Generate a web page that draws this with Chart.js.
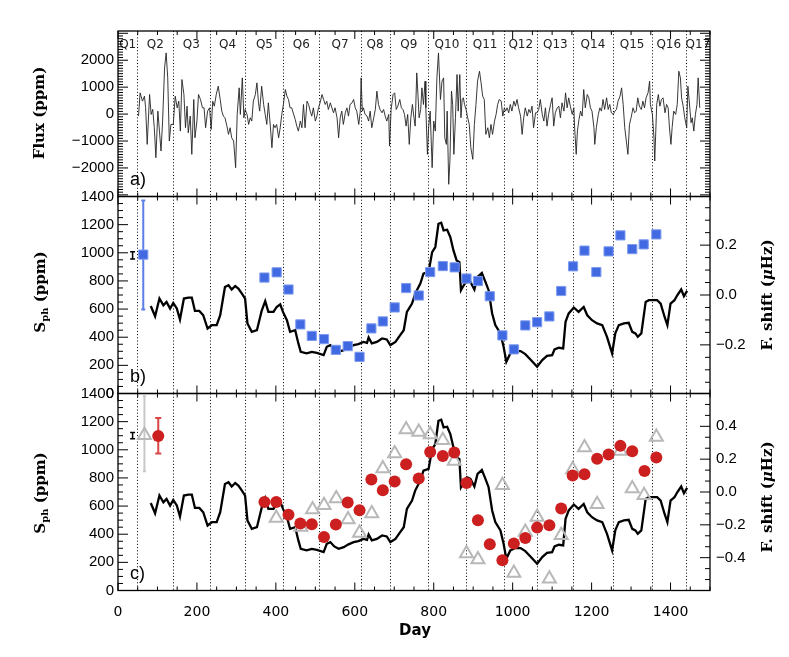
<!DOCTYPE html>
<html>
<head>
<meta charset="utf-8">
<script src="https://cdn.jsdelivr.net/npm/chart.js@4.4.1/dist/chart.umd.min.js"></script>
<style>
  html, body { margin: 0; padding: 0; background: #fff; }
  #wrap { position: relative; width: 789px; height: 657px; background: #fff; }
  #wrap canvas { position: absolute; left: 0; top: 0; }
</style>
</head>
<body>
<div id="wrap">
  <canvas id="panelA" width="789" height="657"></canvas>
  <canvas id="panelB" width="789" height="657"></canvas>
  <canvas id="panelC" width="789" height="657"></canvas>
</div>
<script>
// --- data ---
const quarterBounds = [49, 140, 232, 323, 419, 510, 615, 688, 786, 881, 979, 1062, 1154, 1253, 1352, 1439];
const quarterNames = ['Q1','Q2','Q3','Q4','Q5','Q6','Q7','Q8','Q9','Q10','Q11','Q12','Q13','Q14','Q15','Q16','Q17'];

const dayTicks = [0, 200, 400, 600, 800, 1000, 1200, 1400];
const fluxTicks = [-2000, -1000, 0, 1000, 2000];
const sphTicks = [0, 200, 400, 600, 800, 1000, 1200, 1400];
const shiftTicksB = [-0.2, 0, 0.2];
const shiftTicksC = [-0.4, -0.2, 0, 0.2, 0.4];

// a) light curve
const fluxDay = [52,56,62,67,70,74,80,84,88,92,96,101,105,109,113,118,122,126,130,134,140,145,150,154,158,162,167,171,175,178,
  183,187,192,195,200,204,209,214,218,222,227,232,236,240,244,249,254,259,263,267,271,276,280,284,288,293,298,302,307,310,
  315,319,322,327,331,335,339,343,348,352,356,359,364,369,373,377,381,386,390,394,398,402,407,411,415,419,424,428,432,436,
  440,449,453,457,462,466,470,474,479,483,487,491,495,500,504,508,512,517,521,525,529,533,538,542,546,550,555,559,563,567,
  571,576,580,584,588,593,597,601,605,610,614,616,619,622,626,631,635,639,643,648,652,656,660,664,669,673,677,681,686,688,
  692,697,701,705,709,714,718,722,726,730,734,738,742,746,750,753,757,760,763,767,770,774,778,780,784,787,791,796,800,804,
  808,812,817,821,825,828,832,834,838,841,845,848,851,855,859,862,866,869,872,875,878,882,886,890,894,899,903,907,911,916,
  920,924,928,932,937,941,945,949,954,958,962,966,971,975,979,982,986,990,994,998,1003,1007,1011,1015,1020,1024,1028,1032,1037,1041,
  1045,1049,1053,1058,1062,1066,1070,1075,1079,1083,1087,1091,1096,1100,1104,1108,1113,1117,1121,1125,1130,1134,1138,1142,1146,1151,1155,1157,1161,1164,
  1168,1172,1176,1180,1184,1189,1193,1197,1201,1206,1208,1212,1217,1221,1225,1229,1233,1238,1242,1246,1250,1255,1259,1263,1267,1272,1276,1280,1284,1288,
  1292,1296,1300,1305,1309,1313,1317,1321,1326,1330,1334,1338,1343,1347,1349,1354,1358,1360,1365,1369,1373,1377,1381,1386,1390,1394,1397,1401,1404,1408,
  1413,1417,1421,1425,1428,1432,1436,1441,1444,1447,1452,1455,1459,1463,1467,1470,1474];
const fluxPpm = [-75,789,480,665,233,-1125,727,-13,172,-507,-1618,110,-631,-1372,-260,1715,2271,1345,-1001,-384,-384,665,233,480,-631,1283,727,-507,295,-693,
  -75,-1495,542,-878,-260,727,542,233,233,-507,110,233,-569,480,295,727,1036,542,110,-75,-137,-446,-754,-507,-878,-1001,-1989,-13,974,-13,
  1345,-137,172,-13,-384,-137,-260,480,727,1159,418,110,1036,357,-13,-384,418,-446,-1248,-384,-507,-384,-878,-507,-13,357,912,665,542,233,
  233,-199,-446,-631,-260,-507,357,-507,480,357,110,-75,233,-260,-75,233,418,727,542,357,480,172,418,233,48,233,-137,-878,-137,110,
  -384,48,233,-75,357,418,542,233,110,-384,110,1345,110,233,-13,-75,-260,110,-507,-137,172,851,357,172,48,172,-75,-260,-13,-1187,
  172,727,789,172,295,542,233,172,-13,-446,-13,-1125,-137,357,-137,-446,1530,727,-137,172,974,357,1221,233,-1495,-507,110,-1989,-260,-631,
  1345,2271,542,1221,1345,-878,-1125,110,-2606,-1742,851,357,-1495,-137,1468,110,1468,-137,542,604,357,172,-137,-384,-1248,-1680,-384,357,1221,1591,
  1159,665,542,-754,-507,-878,-384,-754,-260,-13,357,542,480,-75,233,110,233,48,357,110,480,295,542,233,-75,-754,-137,233,-75,172,
  48,295,-507,48,48,172,542,-13,-260,233,-446,-13,357,604,-446,48,233,295,-137,418,110,789,233,604,295,-13,233,-507,-1495,-631,
  -199,110,-75,912,233,727,604,233,110,-507,-1125,-507,-13,233,110,542,172,604,172,357,48,-13,110,172,480,665,974,357,-507,-1001,
  -1495,-384,-137,233,48,110,604,295,172,480,233,604,789,1221,357,-13,-878,-1742,357,727,295,542,604,48,357,233,-446,-1125,-507,110,
  -13,357,1591,1345,604,295,-137,-507,1036,542,-322,-137,-631,-13,357,1345,233];

// b), c) photometric activity proxy S_ph
const sphDay = [83,94,105,115,123,132,140,149,157,167,178,187,195,206,216,227,238,250,259,271,280,288,297,305,314,322,328,339,352,364,
  373,381,394,402,411,418,428,436,449,457,463,478,491,504,521,529,538,548,559,572,584,597,609,622,631,635,643,656,669,681,
  690,703,715,724,732,745,753,766,774,787,796,804,812,819,825,834,842,850,858,865,869,876,884,893,903,911,922,931,939,948,
  956,969,977,984,994,1007,1020,1032,1045,1062,1075,1087,1100,1106,1117,1128,1134,1142,1155,1167,1180,1189,1201,1214,1227,1239,1252,1260,1269,1282,
  1294,1303,1311,1317,1326,1337,1345,1366,1375,1385,1392,1400,1410,1417,1427,1434,1442];
const sphPpm = [622,549,675,627,651,604,644,604,526,675,682,682,587,587,556,462,486,486,556,757,769,739,764,746,710,675,498,438,450,587,
  656,580,580,615,634,580,521,438,450,356,296,285,296,289,273,332,344,313,296,308,328,344,351,367,360,398,356,367,391,384,
  344,367,415,450,580,639,710,781,852,864,1005,1041,1206,1214,1159,1164,1112,1017,946,934,734,769,805,793,739,828,856,793,734,569,
  486,427,332,225,285,303,301,280,242,190,237,268,273,313,325,320,509,569,611,580,615,556,521,498,486,403,285,427,486,498,
  502,438,427,403,427,651,663,663,639,544,486,639,663,698,739,691,729];

// b) frequency shift, blue squares (right axis)
const shiftDayB = [371,402,432,462,491,522,552,582,612,642,671,701,730,762,791,823,853,883,912,942,974,1003,1032,1062,1093,1123,1153,1182,1212,1243,1273,1303,1332,1364];
const shiftB = [0.070,0.091,0.022,-0.118,-0.164,-0.177,-0.220,-0.205,-0.248,-0.134,-0.106,-0.050,0.028,-0.002,0.092,0.116,0.111,0.066,0.056,-0.005,
  -0.162,-0.218,-0.122,-0.109,-0.086,0.016,0.115,0.178,0.092,0.175,0.239,0.184,0.203,0.243];

// c) frequency shift, red circles and grey triangles (right axis)
const shiftDayRed = [371,401,432,462,491,522,552,582,612,642,671,701,730,762,791,823,852,883,912,942,974,1003,1032,1062,1093,1123,1152,1182,1214,1243,1273,1303,1334,1364];
const shiftRed = [-0.061,-0.061,-0.138,-0.192,-0.196,-0.274,-0.198,-0.064,-0.111,0.076,0.011,0.064,0.169,0.082,0.244,0.220,0.240,0.055,-0.172,-0.318,
  -0.416,-0.314,-0.280,-0.217,-0.203,-0.101,0.100,0.108,0.203,0.228,0.281,0.248,0.128,0.210];
const shiftDayGrey = [401,463,493,522,553,583,612,643,671,701,730,762,791,823,852,883,912,974,1003,1032,1062,1093,1123,1152,1182,1214,1273,1303,1333,1364];
const shiftGrey = [-0.158,-0.213,-0.107,-0.081,-0.040,-0.168,-0.249,-0.131,0.143,0.234,0.380,0.366,0.350,0.315,0.189,-0.375,-0.411,0.041,-0.493,-0.243,
  -0.152,-0.528,-0.263,0.137,0.271,-0.075,0.250,0.021,-0.020,0.335];

// typical error bars drawn in the upper-left corners
const errSphB = { day: 37, value: 982, lo: 956, hi: 1008 };
const errBlue = { day: 64, value: 0.162, lo: -0.058, hi: 0.379 };
const errSphC = { day: 37, value: 1100, lo: 1078, hi: 1122 };
const errGrey = { day: 67, value: 0.346, lo: 0.126, hi: 0.583 };
const errRed = { day: 102, value: 0.341, lo: 0.234, hi: 0.451 };

// --- helpers ---
const pts = (xs, ys) => xs.map((x, i) => ({ x: x, y: ys[i] }));
const minusFmt = (v, digits) => {
  const s = digits ? Math.abs(v).toFixed(digits) : String(Math.abs(v));
  return v < 0 ? '\u2212' + s : s;
};

const TITLE = 'bold 15px "DejaVu Serif"';
const SUB = 'bold 10px "DejaVu Serif"';
const sphTitle = [{ t: 'S', f: TITLE }, { t: 'ph', f: SUB, dy: 4 }, { t: ' (ppm)', f: TITLE }];
const shiftTitle = [{ t: 'F. shift (', f: TITLE }, { t: '\u03bc', f: 'italic bold 15px "DejaVu Serif"' }, { t: 'Hz)', f: TITLE }];

// per-panel decorations (ticks, titles, letters)
const panels = {
  panelA: {
    letter: 'a)', qLabels: true,
    xTicks: { major: 200, sub: 4, big: 8, small: 4 },
    left: { id: 'y', major: 1000, sub: 10, big: 10, small: 5 },
    right: { id: 'y', major: 1000, sub: 10, big: 10, small: 5 },
    titles: [
      { x: 40, y: 113, rot: true, parts: [{ t: 'Flux (ppm)', f: TITLE }] }
    ]
  },
  panelB: {
    letter: 'b)',
    xTicks: { major: 200, sub: 4, big: 8, small: 4 },
    left: { id: 'y', major: 200, sub: 4, big: 10, small: 5 },
    right: { id: 'y2', major: 0.2, sub: 4, big: 10, small: 5 },
    titles: [
      { x: 41, y: 292, rot: true, parts: sphTitle },
      { x: 768, y: 295, rot: true, parts: shiftTitle }
    ]
  },
  panelC: {
    letter: 'c)',
    xTicks: { major: 200, sub: 4, big: 8, small: 4 },
    left: { id: 'y', major: 200, sub: 4, big: 10, small: 5 },
    right: { id: 'y2', major: 0.2, sub: 3, big: 10, small: 5 },
    titles: [
      { x: 41, y: 493, rot: true, parts: sphTitle },
      { x: 768, y: 497, rot: true, parts: shiftTitle },
      { x: 415, y: 631, rot: false, parts: [{ t: 'Day', f: 'bold 15px "DejaVu Sans"' }] }
    ]
  }
};

function tickMarks(ctx, scale, a, side, spec) {
  const minor = spec.major / spec.sub;
  const k0 = Math.ceil(scale.min / minor - 1e-6);
  const k1 = Math.floor(scale.max / minor + 1e-6);
  ctx.beginPath();
  for (let k = k0; k <= k1; k++) {
    const len = (k % spec.sub === 0) ? spec.big : spec.small;
    const p = scale.getPixelForValue(k * minor);
    if (side === 'left') { ctx.moveTo(a.left, p); ctx.lineTo(a.left + len, p); }
    if (side === 'right') { ctx.moveTo(a.right, p); ctx.lineTo(a.right - len, p); }
    if (side === 'bottom') { ctx.moveTo(p, a.bottom); ctx.lineTo(p, a.bottom - len); }
    if (side === 'top') { ctx.moveTo(p, a.top); ctx.lineTo(p, a.top + len); }
  }
  ctx.stroke();
}

function drawTitle(ctx, t) {
  ctx.save();
  ctx.translate(t.x, t.y);
  if (t.rot) ctx.rotate(-Math.PI / 2);
  ctx.textBaseline = 'middle';
  ctx.textAlign = 'left';
  ctx.fillStyle = '#000';
  let total = 0;
  t.parts.forEach(p => { ctx.font = p.f; total += ctx.measureText(p.t).width; });
  let x = -total / 2;
  t.parts.forEach(p => {
    ctx.font = p.f;
    ctx.fillText(p.t, x, p.dy || 0);
    x += ctx.measureText(p.t).width;
  });
  ctx.restore();
}

const idlPanel = {
  id: 'idlPanel',
  beforeDatasetsDraw(chart) {
    const spec = panels[chart.canvas.id];
    const { ctx, chartArea: a, scales } = chart;
    ctx.save();
    ctx.beginPath();
    ctx.rect(a.left, a.top, a.width, a.height);
    ctx.clip();
    // quarter boundaries
    ctx.strokeStyle = '#000';
    ctx.lineWidth = 1;
    ctx.setLineDash([1, 2.2]);
    quarterBounds.forEach(d => {
      const px = Math.round(scales.x.getPixelForValue(d)) + 0.5;
      ctx.beginPath();
      ctx.moveTo(px, a.top);
      ctx.lineTo(px, a.bottom);
      ctx.stroke();
    });
    ctx.setLineDash([]);
    if (spec.qLabels) {
      ctx.fillStyle = '#222';
      ctx.font = '12px "DejaVu Sans"';
      ctx.textAlign = 'center';
      ctx.textBaseline = 'middle';
      quarterNames.forEach((q, i) => {
        const lo = i === 0 ? 0 : quarterBounds[i - 1];
        const hi = i < quarterBounds.length ? quarterBounds[i] : scales.x.max;
        ctx.fillText(q, scales.x.getPixelForValue((lo + hi) / 2), a.top + 14);
      });
    }
    // error bars
    chart.data.datasets.forEach(ds => {
      if (!ds.errLo) return;
      const ys = scales[ds.yAxisID || 'y'];
      ctx.strokeStyle = ds.errColor;
      ctx.lineWidth = ds.errWidth;
      ds.data.forEach((p, j) => {
        const px = scales.x.getPixelForValue(p.x);
        const lo = ys.getPixelForValue(ds.errLo[j]);
        const hi = ys.getPixelForValue(ds.errHi[j]);
        ctx.beginPath();
        ctx.moveTo(px, lo); ctx.lineTo(px, hi);
        ctx.moveTo(px - ds.errCap, lo); ctx.lineTo(px + ds.errCap, lo);
        ctx.moveTo(px - ds.errCap, hi); ctx.lineTo(px + ds.errCap, hi);
        ctx.stroke();
      });
    });
    ctx.restore();
  },
  afterDraw(chart) {
    const spec = panels[chart.canvas.id];
    const { ctx, chartArea: a, scales } = chart;
    ctx.save();
    ctx.strokeStyle = '#000';
    ctx.lineWidth = 1;
    tickMarks(ctx, scales.x, a, 'bottom', spec.xTicks);
    tickMarks(ctx, scales.x, a, 'top', spec.xTicks);
    tickMarks(ctx, scales[spec.left.id], a, 'left', spec.left);
    tickMarks(ctx, scales[spec.right.id], a, 'right', spec.right);
    ctx.lineWidth = 1.3;
    ctx.strokeRect(a.left, a.top, a.width, a.height);
    ctx.fillStyle = '#000';
    ctx.font = '18px "Liberation Sans"';
    ctx.textAlign = 'left';
    ctx.textBaseline = 'middle';
    ctx.fillText(spec.letter, a.left + 12, a.bottom - 16);
    spec.titles.forEach(t => drawTitle(ctx, t));
    ctx.restore();
  }
};

function xScale(show) {
  const s = {
    type: 'linear', min: 0, max: 1500, display: show,
    grid: { display: false, drawTicks: false }, border: { display: false },
    ticks: { font: { family: 'DejaVu Sans', size: 14 }, color: '#000', padding: 13, autoSkip: false, maxRotation: 0,
      callback: v => String(v) },
    afterBuildTicks: sc => { sc.ticks = dayTicks.map(v => ({ value: v })); }
  };
  if (show) s.afterFit = sc => { sc.height = 66.5; };
  return s;
}

function yScale(pos, min, max, vals, digits) {
  return {
    type: 'linear', position: pos, min: min, max: max,
    grid: { display: false, drawTicks: false }, border: { display: false },
    ticks: { font: { family: 'Liberation Sans', size: 15 }, color: '#000', padding: pos === 'left' ? 4 : 6, autoSkip: false,
      callback: v => minusFmt(v, digits) },
    afterBuildTicks: s => { s.ticks = vals.map(v => ({ value: v })); },
    afterFit: s => { s.width = pos === 'left' ? 118 : 79; }
  };
}

const common = {
  responsive: false,
  animation: false,
  events: [],
  plugins: { legend: { display: false }, tooltip: { enabled: false } }
};

const sphLine = () => ({
  data: pts(sphDay, sphPpm), yAxisID: 'y', showLine: true,
  borderColor: '#000', borderWidth: 2.3, pointRadius: 0, tension: 0
});

// a) flux
new Chart(document.getElementById('panelA'), {
  type: 'scatter',
  data: { datasets: [{
    data: pts(fluxDay, fluxPpm), showLine: true,
    borderColor: '#222', borderWidth: 0.9, pointRadius: 0, tension: 0
  }] },
  options: Object.assign({}, common, {
    layout: { padding: { top: 31, bottom: 460.5, left: 0, right: 79 } },
    scales: { x: xScale(false), y: yScale('left', -3060, 3085, fluxTicks, 0) }
  }),
  plugins: [idlPanel]
});

// b) S_ph and frequency shift (blue squares)
new Chart(document.getElementById('panelB'), {
  type: 'scatter',
  data: { datasets: [
    { data: [{ x: errBlue.day, y: errBlue.value }], yAxisID: 'y2', pointStyle: 'rect', pointRadius: 6.5,
      backgroundColor: '#4169e1', borderColor: '#7f9cf0', borderWidth: 1,
      errLo: [errBlue.lo], errHi: [errBlue.hi], errColor: '#5b7fe6', errWidth: 2, errCap: 2 },
    { data: pts(shiftDayB, shiftB), yAxisID: 'y2', pointStyle: 'rect', pointRadius: 6.5,
      backgroundColor: '#4169e1', borderColor: '#7f9cf0', borderWidth: 1 },
    { data: [{ x: errSphB.day, y: errSphB.value }], yAxisID: 'y', pointRadius: 0,
      errLo: [errSphB.lo], errHi: [errSphB.hi], errColor: '#000', errWidth: 1.5, errCap: 2.5 },
    sphLine()
  ] },
  options: Object.assign({}, common, {
    layout: { padding: { top: 196.5, bottom: 263.5, left: 0, right: 0 } },
    scales: {
      x: xScale(false),
      y: yScale('left', 0, 1400, sphTicks, 0),
      y2: yScale('right', -0.395, 0.395, shiftTicksB, 1)
    }
  }),
  plugins: [idlPanel]
});

// c) S_ph and frequency shift (red circles, grey triangles)
new Chart(document.getElementById('panelC'), {
  type: 'scatter',
  data: { datasets: [
    { data: [{ x: errRed.day, y: errRed.value }], yAxisID: 'y2', pointStyle: 'circle', pointRadius: 6,
      backgroundColor: '#cc1f1f', borderColor: '#cc1f1f', borderWidth: 0,
      errLo: [errRed.lo], errHi: [errRed.hi], errColor: '#d94444', errWidth: 2, errCap: 3 },
    { data: [{ x: errGrey.day, y: errGrey.value }], yAxisID: 'y2', pointStyle: 'triangle', pointRadius: 7.5,
      backgroundColor: 'rgba(0,0,0,0)', borderColor: '#b8b8b8', borderWidth: 2,
      errLo: [errGrey.lo], errHi: [errGrey.hi], errColor: '#c8c8c8', errWidth: 2, errCap: 1.5 },
    { data: pts(shiftDayRed, shiftRed), yAxisID: 'y2', pointStyle: 'circle', pointRadius: 6,
      backgroundColor: '#cc1f1f', borderColor: '#cc1f1f', borderWidth: 0 },
    { data: pts(shiftDayGrey, shiftGrey), yAxisID: 'y2', pointStyle: 'triangle', pointRadius: 7.5,
      backgroundColor: 'rgba(0,0,0,0)', borderColor: '#b8b8b8', borderWidth: 2 },
    { data: [{ x: errSphC.day, y: errSphC.value }], yAxisID: 'y', pointRadius: 0,
      errLo: [errSphC.lo], errHi: [errSphC.hi], errColor: '#000', errWidth: 1.5, errCap: 2.5 },
    sphLine()
  ] },
  options: Object.assign({}, common, {
    layout: { padding: { top: 393.5, bottom: 0, left: 0, right: 0 } },
    scales: {
      x: xScale(true),
      y: yScale('left', 0, 1400, sphTicks, 0),
      y2: yScale('right', -0.6, 0.6, shiftTicksC, 1)
    }
  }),
  plugins: [idlPanel]
});
</script>
</body>
</html>
